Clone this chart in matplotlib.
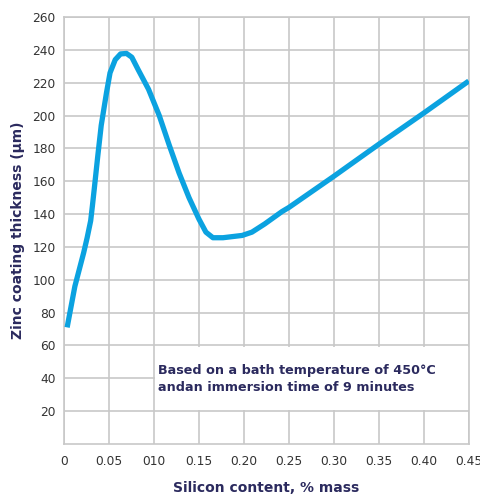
import matplotlib.pyplot as plt
from matplotlib.patches import Rectangle

# Silicon content (% mass) vs zinc coating thickness (um)
silicon = [0.0035, 0.0121, 0.0219, 0.0258, 0.0297, 0.0316, 0.0336, 0.0375, 0.0414,
           0.0473, 0.0512, 0.057, 0.0629, 0.0695, 0.0754, 0.0824, 0.094, 0.1059,
           0.117, 0.128, 0.139, 0.15, 0.1578, 0.1656, 0.1768, 0.1982, 0.209,
           0.2232, 0.2423, 0.25, 0.30, 0.35, 0.40, 0.45]
thickness = [71, 96, 116.5, 125.7, 136, 145, 155, 175, 194,
             214, 226, 234, 237.5, 237.8, 235.5, 228, 216, 200,
             182, 165, 150, 137, 129, 125.6, 125.6, 127, 129,
             134, 141.5, 144, 163, 182.5, 201.5, 221]

x_ticks = [0, 0.05, 0.10, 0.15, 0.20, 0.25, 0.30, 0.35, 0.40, 0.45]
x_labels = ["0", "0.05", "010", "0.15", "0.20", "0.25", "0.30", "0.35", "0.40", "0.45"]
y_ticks = list(range(20, 261, 20))

navy = "#2b2a5e"
grid_col = "#c8c8c8"
line_col = "#0ba2e0"

fig = plt.figure(figsize=(4.8, 4.95), dpi=100)
ax = fig.add_axes([0.1333, 0.103, 0.8432, 0.8627])

ax.plot(silicon, thickness, color=line_col, lw=3.8, solid_capstyle="butt",
        solid_joinstyle="round", zorder=4)

ax.set_xlim(0, 0.45)
ax.set_ylim(0, 260)
ax.set_xticks(x_ticks)
ax.set_xticklabels(x_labels)
ax.set_yticks(y_ticks)
ax.grid(True, color=grid_col, lw=1.2, zorder=1)
ax.set_axisbelow(True)
for s in ax.spines.values():
    s.set_color(grid_col)
    s.set_linewidth(1.2)
ax.tick_params(length=0, labelsize=8.8, colors="#333333", pad=8)
ax.tick_params(axis="y", pad=6)

# white box behind the note, hides the grid
ax.add_patch(Rectangle((0.1015, 20.8), 0.3485, 38.5, facecolor="white",
                       edgecolor="none", zorder=2))
ax.text(0.105, 49, "Based on a bath temperature of 450°C\nandan immersion time of 9 minutes",
        color=navy, fontsize=9.2, fontweight="bold", va="top", ha="left",
        linespacing=1.45, zorder=3)

ax.set_xlabel("Silicon content, % mass", color=navy, fontsize=10, fontweight="bold",
              labelpad=9)
ax.set_ylabel("Zinc coating thickness (µm)", color=navy, fontsize=10, fontweight="bold",
              labelpad=5)

fig.savefig("out.png", dpi=100)
